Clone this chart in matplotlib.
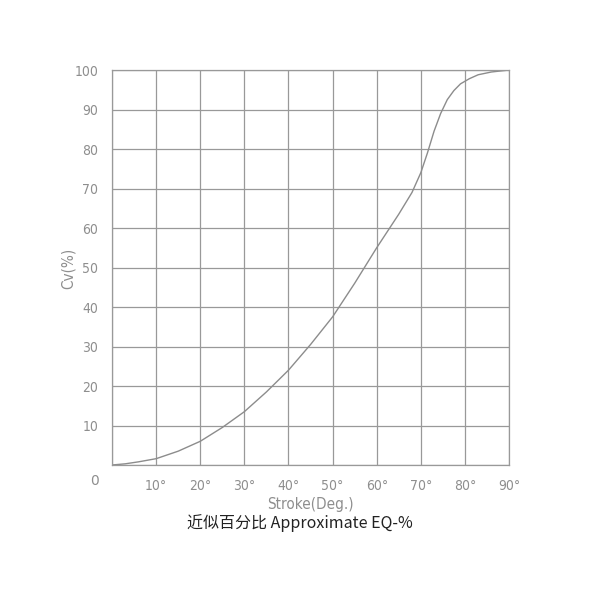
import matplotlib
matplotlib.use("Agg")
import matplotlib.pyplot as plt
from matplotlib import font_manager

# curve
stroke = [0, 3, 6, 10, 15, 20, 25, 30, 35, 40, 45, 50, 55, 60, 65, 68, 70, 71.5, 73, 74.5, 76, 77.5, 79, 81, 83, 86, 90]
cv = [0, 0.3, 0.8, 1.6, 3.5, 6, 9.5, 13.5, 18.5, 24, 30.5, 37.5, 46, 55, 63.5, 69, 74, 79, 84.5, 89, 92.5, 94.8, 96.5, 97.8, 98.8, 99.5, 100]

x_ticks = [10, 20, 30, 40, 50, 60, 70, 80, 90]
x_labels = [f"{t}°" for t in x_ticks]
y_ticks = [10, 20, 30, 40, 50, 60, 70, 80, 90, 100]

names = {f.name for f in font_manager.fontManager.ttflist}
narrow = "Liberation Sans Narrow" if "Liberation Sans Narrow" in names else "DejaVu Sans"
tick_font = [narrow, "DejaVu Sans"]

fig = plt.figure(figsize=(6, 6), dpi=100)
ax = fig.add_axes([0.1867, 0.225, 0.6617, 0.6583])

grey = "#8e8e8e"

ax.plot(stroke, cv, color="#8c8c8c", lw=1.0)

ax.set_xlim(0, 90)
ax.set_ylim(0, 100)
ax.set_xticks(range(0, 91, 10))
ax.set_yticks(range(0, 101, 10))
ax.grid(True, color="#999999", lw=0.9)
ax.tick_params(length=0, pad=10)
ax.set_xticklabels([""] + x_labels, family=tick_font, fontstretch="condensed", fontsize=10, color=grey)
ax.set_yticklabels([""] + [str(t) for t in y_ticks], family=tick_font, fontstretch="condensed", fontsize=10, color=grey)
for s in ax.spines.values():
    s.set_color("#999999")
    s.set_linewidth(0.9)

# origin label
ax.text(-4, -4, "0", family=tick_font, fontsize=10, color=grey, ha="center", va="center")

fig.text(0.113, 0.553, "Cv(%)", rotation=90, family=tick_font, fontstretch="condensed", fontsize=11,
         color=grey, ha="center", va="center")
fig.text(0.518, 0.16, "Stroke(Deg.)", family=tick_font, fontstretch="condensed", fontsize=11,
         color=grey, ha="center", va="center")
fig.text(0.5, 0.128, "近似百分比 Approximate EQ-%", family=["Noto Sans CJK SC", "DejaVu Sans"],
         fontsize=11.5, fontweight="medium", color="#222222", ha="center", va="center")

fig.savefig("out.png", dpi=100, facecolor="white")
